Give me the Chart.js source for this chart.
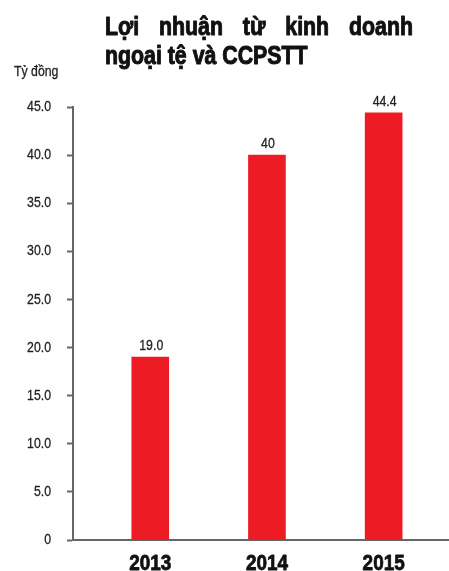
<!DOCTYPE html>
<html>
<head>
<meta charset="utf-8">
<script src="https://cdn.jsdelivr.net/npm/chart.js@4/dist/chart.umd.min.js"></script>
<style>
  html, body { margin: 0; padding: 0; background: #fff; }
  #wrap { width: 449px; height: 571px; position: relative; }
</style>
</head>
<body>
<div id="wrap"><canvas id="c" width="449" height="571"></canvas></div>
<script>
// Profit from foreign-exchange trading and derivatives, billion VND
const years = ['2013', '2014', '2015'];
const profit = [19.0, 40, 44.4];
const valueLabels = ['19.0', '40', '44.4'];
const yTicks = [0, 5, 10, 15, 20, 25, 30, 35, 40, 45];
const titleLines = ['Lợi nhuận từ kinh doanh', 'ngoại tệ và CCPSTT'];
const unitLabel = 'Tỷ đồng';

const FONT = "'Liberation Sans', Arial, sans-serif";
const AXIS = '#666666';
const TEXT = '#222222';
const RED = '#ED1C24';

// Text drawn with a horizontal squeeze to give a condensed face
function narrowText(ctx, text, x, y, opts) {
  const sx = opts.sx || 0.82;
  ctx.save();
  ctx.font = opts.font;
  ctx.fillStyle = opts.color || TEXT;
  ctx.textBaseline = opts.baseline || 'alphabetic';
  ctx.textAlign = 'left';
  const w = ctx.measureText(text).width * sx;
  let left = x;
  if (opts.align === 'center') left = x - w / 2;
  else if (opts.align === 'right') left = x - w;
  ctx.translate(left, y);
  ctx.scale(sx, 1);
  if (opts.stroke) {
    ctx.strokeStyle = opts.color || TEXT;
    ctx.lineWidth = opts.stroke;
    ctx.lineJoin = 'round';
    ctx.strokeText(text, 0, 0);
  }
  ctx.fillText(text, 0, 0);
  ctx.restore();
  return w;
}

function narrowWidth(ctx, text, font, sx) {
  ctx.save();
  ctx.font = font;
  const w = ctx.measureText(text).width * sx;
  ctx.restore();
  return w;
}

// Title (first line justified), unit caption and axis tick labels
const textPlugin = {
  id: 'textBlock',
  afterDraw(chart) {
    const ctx = chart.ctx;
    const tFont = `bold 26px ${FONT}`;
    const tsx = 0.82;
    const left = 105, right = 413;
    const words = titleLines[0].split(' ');
    const widths = words.map(w => narrowWidth(ctx, w, tFont, tsx));
    const total = widths.reduce((a, b) => a + b, 0);
    const gap = (right - left - total) / (words.length - 1);
    let x = left;
    words.forEach((w, i) => {
      narrowText(ctx, w, x, 35, { font: tFont, sx: tsx, color: '#111', stroke: 1 });
      x += widths[i] + gap;
    });
    narrowText(ctx, titleLines[1], left, 64, { font: tFont, sx: tsx, color: '#111', stroke: 1 });

    narrowText(ctx, unitLabel, 14, 76, { font: `15px ${FONT}`, sx: 0.82, stroke: 0.3 });

    const ys = chart.scales.y;
    ys.ticks.forEach(t => {
      const label = t.value === 0 ? '0' : t.value.toFixed(1);
      narrowText(ctx, label, 51, ys.getPixelForValue(t.value), {
        font: `15px ${FONT}`, sx: 0.82, align: 'right', baseline: 'middle', stroke: 0.3
      });
    });

    const xs = chart.scales.x;
    xs.ticks.forEach(t => {
      narrowText(ctx, years[t.value], xs.getPixelForValue(t.value), 570, {
        font: `bold 22px ${FONT}`, sx: 0.86, align: 'center', color: '#111', stroke: 0.8
      });
    });
  }
};

// Value captions above each bar
const valuePlugin = {
  id: 'valueLabels',
  afterDatasetsDraw(chart) {
    const ctx = chart.ctx;
    const meta = chart.getDatasetMeta(0);
    meta.data.forEach((bar, i) => {
      narrowText(ctx, valueLabels[i], bar.x + 1, bar.y - 7, {
        font: `15px ${FONT}`, sx: 0.82, align: 'center', stroke: 0.3
      });
    });
  }
};

new Chart(document.getElementById('c'), {
  type: 'bar',
  data: {
    datasets: [{
      data: years.map((y, i) => ({ x: i, y: profit[i] })),
      backgroundColor: RED,
      borderWidth: 0,
      barThickness: 37
    }]
  },
  options: {
    responsive: false,
    animation: false,
    events: [],
    layout: { padding: { top: 107, left: 0, right: 0, bottom: 0 } },
    plugins: { legend: { display: false }, tooltip: { enabled: false }, title: { display: false } },
    scales: {
      x: {
        type: 'linear',
        offset: false,
        min: -0.662,
        max: 2.56,
        afterBuildTicks(scale) { scale.ticks = years.map((_, i) => ({ value: i })); },
        afterFit(scale) { scale.height = 31; },
        grid: { display: true, drawOnChartArea: false, drawTicks: false },
        border: { display: true, color: AXIS, width: 2 },
        ticks: { display: false }
      },
      y: {
        min: 0,
        max: 45,
        afterBuildTicks(scale) { scale.ticks = yTicks.map(v => ({ value: v })); },
        afterFit(scale) { scale.width = 73; },
        grid: { display: true, drawOnChartArea: false, drawTicks: true, tickLength: 6, tickColor: AXIS, tickWidth: 2 },
        border: { display: true, color: AXIS, width: 2 },
        ticks: { display: false }
      }
    }
  },
  plugins: [textPlugin, valuePlugin]
});
</script>
</body>
</html>
